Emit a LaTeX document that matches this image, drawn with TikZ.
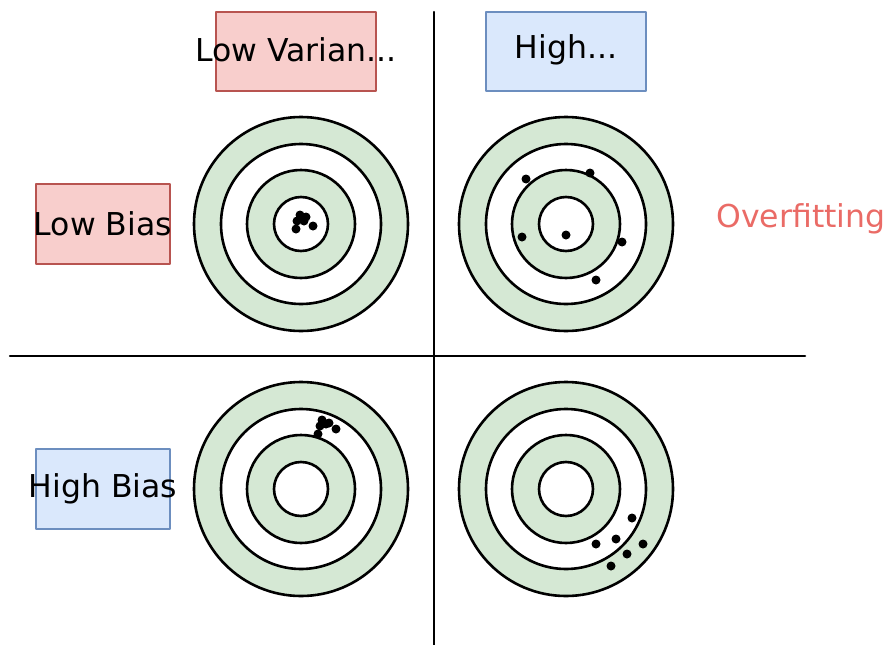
\documentclass[tikz,border=0pt]{standalone}
\usepackage{fontspec}
\setmainfont{DejaVu Sans}
\definecolor{redfill}{HTML}{F8CECC}
\definecolor{redline}{HTML}{B85450}
\definecolor{bluefill}{HTML}{DAE8FC}
\definecolor{blueline}{HTML}{6C8EBF}
\definecolor{ringfill}{HTML}{D5E8D4}
\definecolor{fittext}{HTML}{EA6B66}
\begin{document}
\begin{tikzpicture}[x=1pt,y=-1pt,line join=round,line cap=round]
	\tikzset{every node/.style={font=\fontsize{31.5}{37}\selectfont},
		redbox/.style={draw=redline,fill=redfill,line width=2pt,minimum width=160pt,minimum height=79pt,inner sep=0pt},
		bluebox/.style={draw=blueline,fill=bluefill,line width=2pt,minimum width=160pt,minimum height=79pt,inner sep=0pt},
		sidebox/.style={minimum width=134pt,minimum height=80pt}}
	\useasboundingbox (0,0) rectangle (889,645);
	\draw[line width=2.5pt] (434,12)--(434,645);
	\draw[line width=2.5pt] (10,356)--(805,356);
	% targets
	\foreach \cx/\cy in {301/224,566/224,301/489,566/489}
	\foreach \r/\c in {107/ringfill,80/white,54/ringfill,27/white}
	\draw[line width=2.6pt,fill=\c] (\cx,\cy) circle[radius=\r pt];
	% hits
	\foreach \x/\y in {300/215,306/217,297/221,304/221,313/226,296/229,
		322/420,326/424,320/426,329/423,336/429,318/434,
		526/179,590/173,522/237,566/235,622/242,596/280,
		632/518,616/539,596/544,643/544,627/554,611/566}
	\fill (\x,\y) circle[radius=4.5pt];
	% labels
	\node[redbox] (lowvar) at (296,51.5) {};
	\node (lowvartxt) at (296,50) {Low Varian...};
	\node[bluebox] (highvar) at (566,51.5) {};
	\node (highvartxt) at (566,50) {High...};
	\node[redbox,sidebox] (lowbias) at (103,224) {};
	\node (lowbiastxt) at (lowbias) {Low Bias};
	\node[bluebox,sidebox] (highbias) at (103,489) {};
	\node (highbiastxt) at (highbias) {High Bias};
	\node[text=fittext] (overfit) at (801,219) {Overfitting};
\end{tikzpicture}
\end{document}
